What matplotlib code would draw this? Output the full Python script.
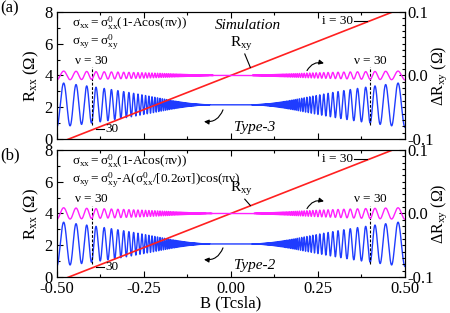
import numpy as np
import matplotlib
matplotlib.use('Agg')
import matplotlib.pyplot as plt
from matplotlib.ticker import MultipleLocator

# -------- style -------- #
plt.rcParams['font.family'] = ['Liberation Serif', 'DejaVu Serif']
plt.rcParams['mathtext.fontset'] = 'custom'
plt.rcParams['mathtext.rm'] = 'Liberation Serif'
plt.rcParams['mathtext.it'] = 'Liberation Serif:italic'
plt.rcParams['mathtext.default'] = 'regular'

# -------- values -------- #
panel_labels = ['(a)', '(b)']
type_labels = ['Type-3', 'Type-2']
sigma_xx_text = r'$\sigma_{xx} = \sigma_{xx}^{0}$(1-Acos($\pi\nu$))'
sigma_xy_texts = [r'$\sigma_{xy} = \sigma_{xy}^{0}$',
                  r'$\sigma_{xy} = \sigma_{xy}^{0}$-A($\sigma_{xx}^{0}$/[0.2$\omega\tau$])cos($\pi\nu$)']
rxy_label_y = [6.0, 5.55]

nu_mark = 30            # filling factor marked by dashed lines
b_nu_mark = 0.40        # field (T) where nu = 30
rxy_zero_b = -0.465     # red Rxy line crosses Rxx = 0 here
rxy_top_b = 0.465       # red Rxy line reaches Rxx = 8 here

rxx_center = [2.15, 2.08]     # Ohm, flat part of blue curve
rxx_amp_edge = [1.42, 1.42]   # Ohm, oscillation amplitude at |B| = 0.5
rxx_damping = [0.425, 0.425]  # T, Dingle-like damping field
dxy_amp_edge = [0.0070, 0.0092]  # Ohm (right axis), amplitude at |B| = 0.5
dxy_damping = [0.26, 0.30]

b_edge = 0.5


def oscillation(b, amp_edge, damping):
    # SdH type oscillation cos(pi*nu), nu = nu_mark*b_nu_mark/|B|
    babs = np.maximum(np.abs(b), 0.03)
    nu = nu_mark * b_nu_mark / babs
    amp = amp_edge * np.exp(-damping / babs + damping / b_edge)
    return np.where(np.abs(b) > 0.03, amp * np.cos(np.pi * nu), 0.0)


b = np.linspace(-0.5, 0.5, 80001)

fig = plt.figure(figsize=(4.5, 3.13), dpi=100)
positions = [[0.126, 0.556, 0.774, 0.406], [0.126, 0.115, 0.774, 0.406]]
fs_tick = 12
fs_note = 9.5

for k in range(2):
    ax = fig.add_axes(positions[k])
    ax2 = ax.twinx()

    # blue Rxx
    rxx = rxx_center[k] - oscillation(b, rxx_amp_edge[k], rxx_damping[k])
    ax.plot(b, rxx, color='#1f3cff', lw=1.0)

    # red Rxy line
    slope = 8 / (rxy_top_b - rxy_zero_b)
    ax.plot([-0.5, 0.5], [slope * (-0.5 - rxy_zero_b), slope * (0.5 - rxy_zero_b)],
            color='#ff2020', lw=1.2)

    # magenta dRxy on the right axis
    dxy = -oscillation(b, dxy_amp_edge[k], dxy_damping[k])
    ax2.plot(b, dxy, color='#ff20ff', lw=1.0)

    # nu = 30 dashed lines
    for bm in (-b_nu_mark, b_nu_mark):
        ax.plot([bm, bm], [0.85, 4.5], color='k', lw=0.8, ls=(0, (2.5, 1.5)))
        ax.text(bm, 4.55, r'$\nu$ = 30', ha='center', va='bottom', fontsize=fs_note)

    # i = 30 marks on the red line
    y_left = slope * (-b_nu_mark - rxy_zero_b)
    y_right = slope * (b_nu_mark - rxy_zero_b)
    ax.plot([-0.387, -0.364], [y_left + 0.05] * 2, color='k', lw=0.8)
    ax.text(-0.360, y_left + 0.05, '30', ha='left', va='center', fontsize=fs_note)
    ax.plot([0.353, 0.392], [y_right] * 2, color='k', lw=0.8)
    ax.text(0.350, y_right, 'i = 30', ha='right', va='center', fontsize=fs_note)

    # Rxy label and pointer
    ax.text(0.03, rxy_label_y[k], r'R$_{xy}$', ha='center', va='center', fontsize=11)
    ax.plot([0.040, 0.056], [rxy_label_y[k] - 0.65, 4.5], color='k', lw=0.8)

    # formulas and labels
    ax.text(-0.457, 7.3, sigma_xx_text, ha='left', va='center', fontsize=fs_note)
    ax.text(-0.457, 6.1, sigma_xy_texts[k], ha='left', va='center', fontsize=fs_note)
    if k == 0:
        ax.text(0.048, 7.15, 'Simulation', ha='center', va='center',
                fontsize=11, style='italic')
    ax.text(0.068, 0.7, type_labels[k], ha='center', va='center',
            fontsize=11, style='italic')

    # arrows
    ax.annotate('', xy=(-0.085, 1.12), xytext=(-0.02, 2.0),
                arrowprops=dict(arrowstyle='-|>', color='k', lw=0.8,
                                mutation_scale=7,
                                connectionstyle='arc3,rad=-0.45'))
    ax.annotate('', xy=(0.275, 4.72), xytext=(0.215, 4.15),
                arrowprops=dict(arrowstyle='-|>', color='k', lw=0.8,
                                mutation_scale=7,
                                connectionstyle='arc3,rad=-0.45'))

    ax.set_xlim(-0.5, 0.5)
    ax.set_ylim(0, 8)
    ax2.set_ylim(-0.1, 0.1)
    ax.xaxis.set_major_locator(MultipleLocator(0.25))
    ax.xaxis.set_minor_locator(MultipleLocator(0.125))
    ax.yaxis.set_major_locator(MultipleLocator(2))
    ax.yaxis.set_minor_locator(MultipleLocator(1))
    ax2.yaxis.set_major_locator(MultipleLocator(0.1))
    ax2.yaxis.set_minor_locator(MultipleLocator(0.01))
    ax.tick_params(which='both', direction='in', top=True, labelsize=fs_tick, pad=3)
    ax.tick_params(which='major', length=4, width=0.8)
    ax.tick_params(which='minor', length=2, width=0.8)
    ax2.tick_params(which='both', direction='in', labelsize=fs_tick, pad=2)
    ax2.tick_params(which='major', length=4, width=0.8)
    ax2.tick_params(which='minor', length=2, width=0.8)
    ax2.yaxis.set_major_formatter(lambda v, p: f'{v:.1f}'.replace('-0.0', '0.0'))

    ax.set_ylabel(r'R$_{xx}$ ($\Omega$)', fontsize=12, labelpad=2)
    ax2.set_ylabel(r'$\Delta$R$_{xy}$ ($\Omega$)', fontsize=11.5)
    ax2.yaxis.set_label_coords(1.07, 0.5)
    if k == 0:
        ax.tick_params(labelbottom=False)
    else:
        ax.xaxis.set_major_formatter(lambda v, p: f'{v:.2f}')
        ax.set_xlabel('B (Tcsla)', fontsize=12, labelpad=-1)

    fig.text(0.0, 1 - (8 if k == 0 else 155) / 313, panel_labels[k],
             ha='left', va='center', fontsize=12)

fig.savefig('out.png', dpi=100)
